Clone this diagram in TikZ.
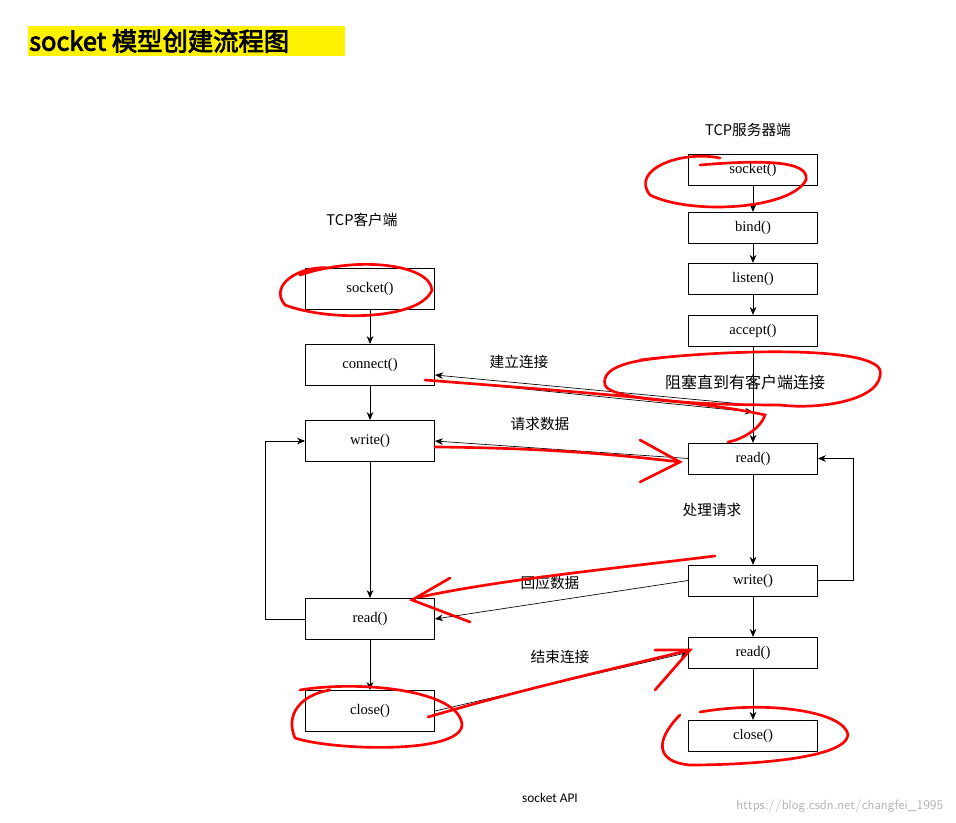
\documentclass[tikz,border=0pt]{standalone}
\usepackage{fontspec}
\setmainfont{Liberation Serif}
\newfontfamily\cjk{Noto Sans CJK SC}
\newfontfamily\cjkb[AutoFakeBold=3]{Noto Sans CJK SC}
\newfontfamily\capfont{Carlito}
\usetikzlibrary{arrows.meta}
\begin{document}
\begin{tikzpicture}[x=0.75pt,y=-0.75pt,
  box/.style={draw,minimum width=97pt,minimum height=23pt,inner sep=0pt,font=\fontsize{11}{12}\selectfont},
  cbox/.style={box,minimum height=31pt},
  lab/.style={font=\cjk\fontsize{11}{12}\selectfont},
  arr/.style={-{Stealth[length=6pt,width=5pt]},line width=0.5pt},
  red/.style={draw=red,line width=2pt,line cap=round}]
\useasboundingbox (0,0) rectangle (956,823);
\fill[yellow] (28,26) rectangle (345,56);
\node[anchor=west,font=\cjkb\bfseries\fontsize{19}{21}\selectfont,inner sep=0pt] (title) at (29,41) {socket 模型创建流程图};
% server
\node[lab] (st) at (748,130) {TCP服务器端};
\node[box] (ss) at (753,169.5) {socket()};
\node[box] (sb) at (753,227.5) {bind()};
\node[box] (sl) at (753,278.5) {listen()};
\node[box] (sa) at (753,330.5) {accept()};
\node[lab,font=\cjk\fontsize{12}{14}\selectfont] (blk) at (745,382) {阻塞直到有客户端连接};
\node[box] (sr) at (753,458.5) {read()};
\node[box] (sw) at (753,580.5) {write()};
\node[box] (sr2) at (753,652.5) {read()};
\node[box] (sc) at (753,735.5) {close()};
% client
\node[lab] (ct) at (362,220) {TCP客户端};
\node[cbox] (cs) at (370,288.5) {socket()};
\node[cbox] (cc) at (370,365) {connect()};
\node[cbox] (cw) at (370,441) {write()};
\node[cbox] (cr) at (370,619) {read()};
\node[cbox] (ccl) at (370,711) {close()};
% server chain
\draw[arr] (ss) -- (sb);
\draw[arr] (sb) -- (sl);
\draw[arr] (sl) -- (sa);
\draw[arr] (sa.south) -- (sr.north);
\draw[arr] (sr) -- (sw);
\draw[arr] (sw) -- (sr2);
\draw[arr] (sr2) -- (sc);
\draw[arr] (sw.east) -- ++(35,0) |- (sr.east);
% client chain
\draw[arr] (cs) -- (cc);
\draw[arr] (cc) -- (cw);
\draw[arr] (cw) -- (cr);
\draw[arr] (cr) -- (ccl);
\draw[arr] (cr.west) -- ++(-40,0) |- (cw.west);
% cross
\coordinate (j1) at (753,405);
\coordinate (j2) at (753,412);
\draw[arr] (j1) -- (435,375);
\draw[arr] (435,380) -- (j2);
\draw[arr] (sr.west) -- (cw.east);
\draw[arr] (sw.west) -- (cr.east);
\draw[arr] (ccl.east) -- (sr2.west);
\node[lab] (l1) at (519,362) {建立连接};
\node[lab] (l2) at (540,424) {请求数据};
\node[lab] (l3) at (712,510) {处理请求};
\node[lab] (l4) at (550,583) {回应数据};
\node[lab] (l5) at (560,657) {结束连接};
\node[font=\capfont\fontsize{10}{12}\selectfont] (cap) at (550,798) {socket API};
\node[font=\fontsize{10}{12}\sffamily\selectfont,text=gray!60,anchor=east] (wm) at (948,806) {https://blog.csdn.net/changfei\_1995};
% red annotations
\draw[red] (700,165) .. controls (760,160) and (810,160) .. (806,180) .. controls (790,210) and (690,215) .. (650,195) .. controls (630,170) and (680,150) .. (720,158);
\draw[red] (300,275) .. controls (360,255) and (430,265) .. (432,290) .. controls (420,320) and (330,322) .. (285,305) .. controls (268,285) and (300,265) .. (330,268);
\draw[red] (640,360) .. controls (720,350) and (870,345) .. (880,370) .. controls (885,400) and (820,410) .. (780,405) .. controls (700,405) and (610,400) .. (605,385) .. controls (600,365) and (640,360) .. (660,358);
\draw[red] (300,690) .. controls (360,680) and (460,690) .. (462,725) .. controls (460,755) and (330,750) .. (295,738) .. controls (285,715) and (300,695) .. (330,690);
\draw[red] (700,712) .. controls (770,700) and (845,712) .. (848,735) .. controls (845,760) and (740,765) .. (690,765) .. controls (655,762) and (655,740) .. (680,715);
\draw[red] (425,380) .. controls (550,390) and (700,400) .. (765,415) .. controls (760,430) and (740,440) .. (728,442);
\draw[red] (435,447) .. controls (550,448) and (620,455) .. (680,462);
\draw[red] (640,440) -- (680,462) -- (640,482);
\draw[red] (715,556) .. controls (600,570) and (500,580) .. (420,597);
\draw[red] (450,578) -- (412,600) -- (470,622);
\draw[red] (428,717) .. controls (520,690) and (600,672) .. (690,650);
\draw[red] (655,650) -- (690,650) -- (655,690);
\end{tikzpicture}
\end{document}
